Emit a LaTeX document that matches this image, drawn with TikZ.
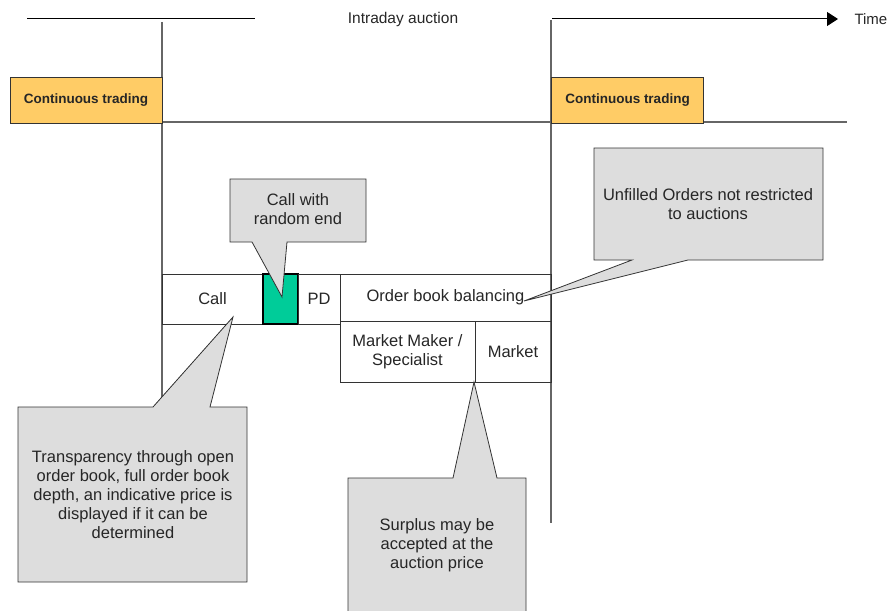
\documentclass[tikz,border=0pt]{standalone}
\usepackage{fontspec}
\setmainfont{Liberation Sans}
\usetikzlibrary{arrows.meta}
\definecolor{ctorange}{HTML}{FFCC66}
\definecolor{ctgreen}{HTML}{00CC99}
\definecolor{cofill}{HTML}{DDDDDD}
\definecolor{coline}{HTML}{333333}
\definecolor{axgray}{HTML}{666666}
\begin{document}
\begin{tikzpicture}[x=1pt,y=-1pt,
  every node/.style={font=\fontsize{16.5}{19}\selectfont, text=black!85},
  ctbox/.style={draw=black!80, fill=ctorange, line width=1pt, minimum width=152pt, minimum height=46pt, inner sep=0pt, font=\fontsize{13.5}{15}\selectfont\bfseries},
  phase/.style={draw=black!80, line width=0.8pt, inner sep=0pt, align=center},
  cobox/.style={draw=coline, fill=cofill, line width=0.8pt, line join=miter},
  cotext/.style={align=center, inner sep=0pt},
  axis/.style={axgray, line width=1.2pt}]
\useasboundingbox (0,0) rectangle (888,610);

% time axis
\node[font=\fontsize{15.5}{18}\selectfont] (title) at (403,19) {Intraday auction};
\node[anchor=west, font=\fontsize{15}{17}\selectfont] (time) at (851,19) {Time};
\coordinate (l1) at (27,19);
\coordinate (l2) at (255,19);
\coordinate (r1) at (552,19);
\coordinate (r2) at (838,19);
\draw[line width=1pt] (l1) -- (l2);
\draw[line width=1pt, -{Triangle[length=11pt,width=14pt]}] (r1) -- (r2);

% vertical and horizontal guide lines
\coordinate (vl1) at (162,22);
\coordinate (vl2) at (162,407);
\coordinate (vr1) at (551,20);
\coordinate (vr2) at (551,523);
\coordinate (h1) at (162,122);
\coordinate (h2) at (847,122);
\draw[axis] (vl1) -- (vl2);
\draw[axis] (vr1) -- (vr2);
\draw[axis] (h1) -- (h2);

% continuous trading
\node[ctbox] (ct1) at (86,100) {Continuous trading};
\node[ctbox] (ct2) at (627.5,100) {Continuous trading};

% phases
\node[phase, minimum width=101pt, minimum height=50pt] (call) at (212.5,299) {Call};
\node[phase, fill=ctgreen, draw=black, line width=2pt, minimum width=35pt, minimum height=50pt] (green) at (280.5,299) {};
\node[phase, minimum width=42pt, minimum height=50pt] (pd) at (319,299) {PD};
\node[phase, minimum width=211pt, minimum height=47pt] (obb) at (445.5,297.5) {Order book balancing};
\node[phase, minimum width=135pt, minimum height=61pt] (mm) at (407.5,351.5) {Market Maker /\\Specialist};
\node[phase, minimum width=76pt, minimum height=61pt] (mkt) at (513,351.5) {Market};

% callout: call with random end
\coordinate (t1) at (282,297);
\draw[cobox] (230,179) -- (366,179) -- (366,242) -- (287,242) -- (t1) -- (252,242) -- (230,242) -- cycle;
\node[cotext] (crand) at (298,209) {Call with\\random end};

% callout: transparency
\coordinate (t2) at (233,317);
\draw[cobox] (18,407) -- (153,407) -- (t2) -- (210,407) -- (247,407) -- (247,582) -- (18,582) -- cycle;
\node[cotext] (trans) at (133,495) {Transparency through open\\order book, full order book\\depth, an indicative price is\\displayed if it can be\\determined};

% callout: surplus
\coordinate (t3) at (474,382);
\draw[cobox] (348,478) -- (453,478) -- (t3) -- (497,478) -- (526,478) -- (526,612) -- (348,612) -- cycle;
\node[cotext] (surplus) at (437,545) {Surplus may be\\accepted at the\\auction price};

% callout: unfilled orders
\coordinate (t4) at (524,301);
\draw[cobox] (594,148) -- (823,148) -- (823,260) -- (688,260) -- (t4) -- (632,260) -- (594,260) -- cycle;
\node[cotext] (unfilled) at (708,204) {Unfilled Orders not restricted\\to auctions};
\end{tikzpicture}
\end{document}
